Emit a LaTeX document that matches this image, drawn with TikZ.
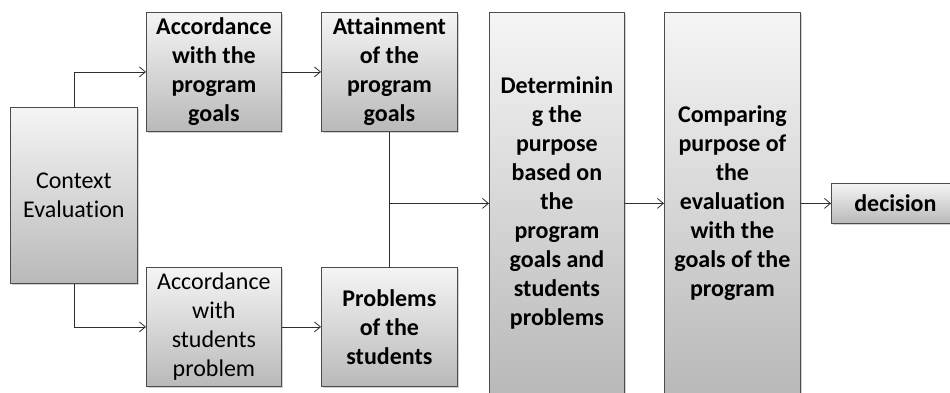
\documentclass[tikz,border=0pt]{standalone}
\usepackage{fontspec}
\setmainfont[Ligatures={NoCommon}]{Carlito}
\usetikzlibrary{arrows.meta,shadows}
\begin{document}
\begin{tikzpicture}[x=1pt,y=-1pt,
  box/.style={draw=gray!60!black, line width=0.8pt, top color=gray!8, bottom color=gray!55,
    drop shadow={shadow xshift=1.5pt,shadow yshift=-1.5pt,opacity=0.35},
    anchor=north west, inner sep=0pt, align=center, text=black,
    font=\fontsize{24}{29}\selectfont},
  bbox/.style={box, font=\fontsize{24}{29}\selectfont\bfseries},
  arr/.style={draw=gray!35!black, line width=0.8pt, -{Straight Barb[length=6pt,width=10pt]}},
  ln/.style={draw=gray!35!black, line width=0.8pt}]
\useasboundingbox (0,0) rectangle (950,392);
\clip (0,0) rectangle (950,392);
\fill[white] (0,0) rectangle (950,392);
\node[box, minimum width=127pt, minimum height=176pt] (ctx) at (10,107) {Context\\Evaluation};
\node[bbox, minimum width=135pt, minimum height=119pt] (acc1) at (146,12) {Accordance\\with the\\program\\goals};
\node[bbox, minimum width=136pt, minimum height=119pt] (att) at (321,12) {Attainment\\of the\\program\\goals};
\node[box, minimum width=135pt, minimum height=119pt] (acc2) at (146,267) {Accordance\\with\\students\\problem};
\node[bbox, minimum width=136pt, minimum height=119pt] (prob) at (321,267) {Problems\\of the\\students};
\node[bbox, minimum width=135pt, minimum height=382pt] (det) at (489,12) {Determinin\\g the\\purpose\\based on\\the\\program\\goals and\\students\\problems};
\node[bbox, minimum width=136pt, minimum height=382pt] (cmp) at (664,12) {Comparing\\purpose of\\the\\evaluation\\with the\\goals of the\\program};
\node[bbox, minimum width=128pt, minimum height=40pt] (dec) at (831,183) {decision};
\draw[arr] (ctx.north) |- (acc1.west);
\draw[arr] (ctx.south) |- (acc2.west);
\draw[arr] (acc1.east) -- (att.west);
\draw[arr] (acc2.east) -- (prob.west);
\draw[ln] (att.south) -- (prob.north);
\coordinate (j) at (att.south |- det.west);
\draw[arr] (j) -- (det.west);
\draw[arr] (det.east) -- (cmp.west);
\draw[arr] (cmp.east) -- (dec.west);
\end{tikzpicture}
\end{document}
